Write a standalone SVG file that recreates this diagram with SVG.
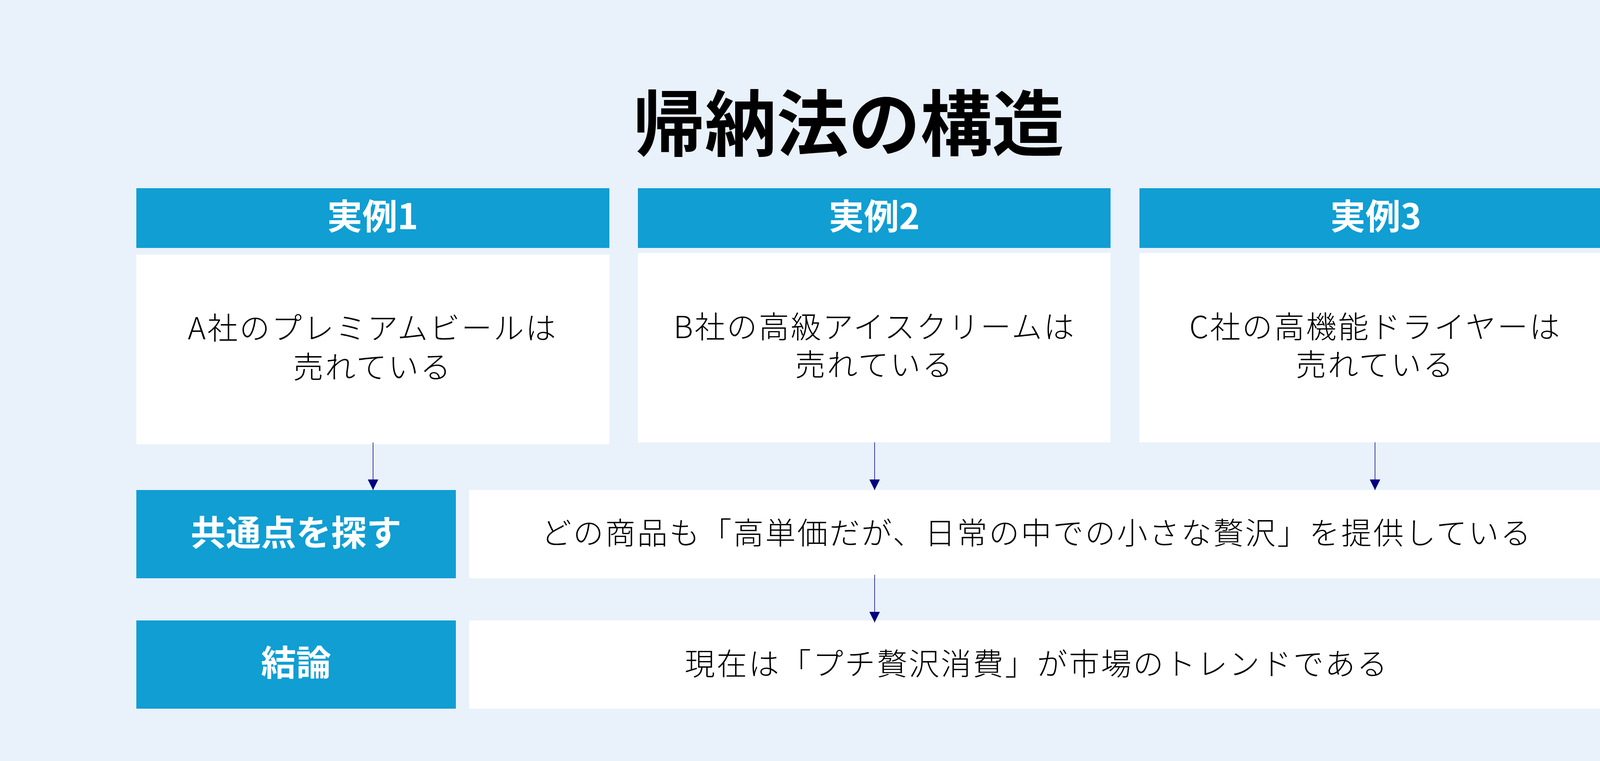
<svg xmlns="http://www.w3.org/2000/svg" width="4400" height="1949" viewBox="0 0 4400 1949">
<defs>
<style>
.bg{fill:#E9F1FB}
.hdr{fill:#109ED3}
.card{fill:#FFFFFF}
.t-title{font-family:"Noto Sans CJK JP","Noto Sans",sans-serif;font-weight:700;font-size:184px;fill:#000000;text-anchor:middle}
.t-hdr{font-family:"Noto Sans CJK JP","Noto Sans",sans-serif;font-weight:700;font-size:90px;fill:#FFFFFF;text-anchor:middle}
.t-body{font-family:"Noto Sans CJK JP","Noto Sans",sans-serif;font-weight:300;font-size:78px;letter-spacing:4px;fill:#000000;text-anchor:middle}
.conn{stroke:#000080;stroke-width:1.5;fill:none}
</style>
<marker id="ah" markerUnits="userSpaceOnUse" markerWidth="27" markerHeight="27" refX="27" refY="13.5" orient="auto">
<path d="M0,0 L27,13.5 L0,27 Z" fill="#000080"/>
</marker>
</defs>
<rect class="bg" x="0" y="0" width="4400" height="1949"/>
<text class="t-title" x="2172" y="385">帰納法の構造</text>

<g id="example1">
<rect class="hdr" x="349" y="482" width="1211" height="153"/>
<text class="t-hdr" x="954" y="587">実例1</text>
<rect class="card" x="349" y="652" width="1211" height="486"/>
<text class="t-body"><tspan x="954" y="869">A社のプレミアムビールは</tspan><tspan x="954" y="969">売れている</tspan></text>
</g>

<g id="example2">
<rect class="hdr" x="1633" y="482" width="1210" height="153"/>
<text class="t-hdr" x="2238" y="587">実例2</text>
<rect class="card" x="1633" y="648" width="1210" height="485"/>
<text class="t-body"><tspan x="2239" y="866">B社の高級アイスクリームは</tspan><tspan x="2239" y="963">売れている</tspan></text>
</g>

<g id="example3">
<rect class="hdr" x="2917" y="482" width="1210" height="153"/>
<text class="t-hdr" x="3522" y="587">実例3</text>
<rect class="card" x="2917" y="648" width="1210" height="485"/>
<text class="t-body"><tspan x="3521" y="866">C社の高機能ドライヤーは</tspan><tspan x="3521" y="963">売れている</tspan></text>
</g>

<g id="common">
<rect class="hdr" x="349" y="1255" width="818" height="226"/>
<text class="t-hdr" x="758" y="1397">共通点を探す</text>
<rect class="card" x="1201" y="1255" width="2926" height="226"/>
<text class="t-body" x="2654" y="1394">どの商品も「高単価だが、日常の中での小さな贅沢」を提供している</text>
</g>

<g id="conclusion">
<rect class="hdr" x="349" y="1589" width="818" height="226"/>
<text class="t-hdr" x="758" y="1730">結論</text>
<rect class="card" x="1201" y="1589" width="2926" height="226"/>
<text class="t-body" x="2654" y="1729">現在は「プチ贅沢消費」が市場のトレンドである</text>
</g>

<g id="connectors">
<line class="conn" x1="955" y1="1133" x2="955" y2="1255" marker-end="url(#ah)"/>
<line class="conn" x1="2239" y1="1133" x2="2239" y2="1255" marker-end="url(#ah)"/>
<line class="conn" x1="3520" y1="1133" x2="3520" y2="1255" marker-end="url(#ah)"/>
<line class="conn" x1="2239" y1="1472" x2="2239" y2="1594" marker-end="url(#ah)"/>
</g>
</svg>
